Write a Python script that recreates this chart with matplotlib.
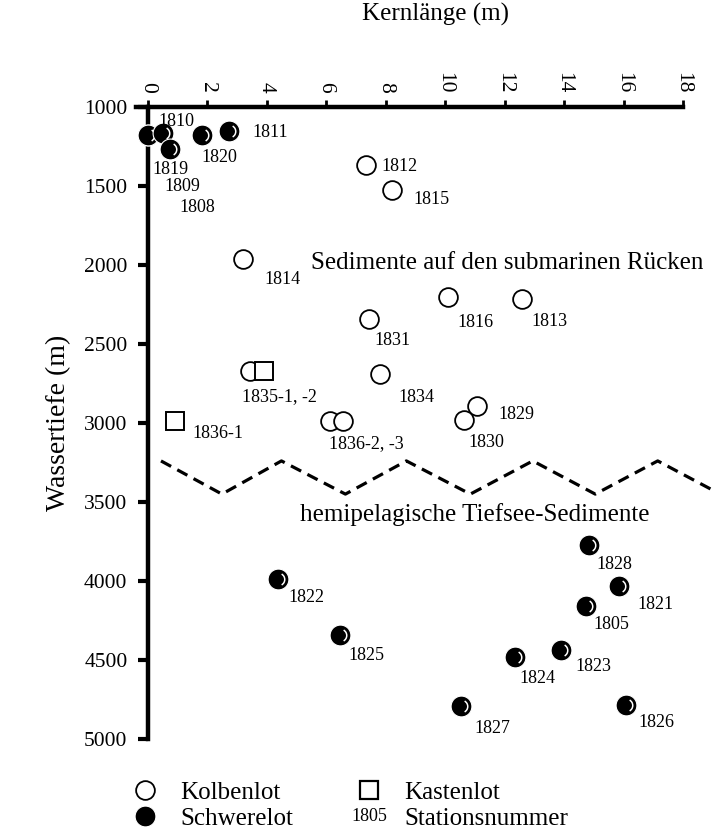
import matplotlib
matplotlib.use("Agg")
import matplotlib.pyplot as plt
from matplotlib.lines import Line2D
from matplotlib.path import Path
from matplotlib.legend_handler import HandlerBase
import numpy as np

plt.rcParams['font.family'] = ['Liberation Serif', 'DejaVu Serif']

# Kolbenlot (open circles)
kolben_x = [7.35, 8.2, 3.2, 10.1, 12.6, 7.45, 7.8, 3.45, 6.12, 6.57, 11.08, 10.63]
kolben_y = [1365, 1525, 1960, 2205, 2215, 2340, 2690, 2670, 2990, 2990, 2895, 2980]
kolben_lbl = ['1812', '1815', '1814', '1816', '1813', '1831', '1834', '1835-1, -2',
              '1836-2, -3', '', '1829', '1830']

# Kastenlot (squares)
kasten_x = [3.9, 0.92]
kasten_y = [2670, 2990]
kasten_lbl = ['', '1836-1']

# Schwerelot (filled circles)
schwer_x = [0.0, 0.0, 0.53, 0.76, 1.82, 2.75, 14.85, 4.37, 15.84, 14.75, 6.48, 13.9, 12.34, 10.52, 16.08]
schwer_y = [1180, 1175, 1165, 1265, 1175, 1155, 3770, 3985, 4034, 4156, 4340, 4439, 4481, 4793, 4783]
schwer_lbl = ['1808', '1809', '1810', '1819', '1820', '1811', '1828', '1822', '1821', '1805',
              '1825', '1823', '1824', '1827', '1826']

# boundary between the two sediment provinces (zigzag)
wave_x = [0.45, 2.5, 4.5, 6.65, 8.7, 10.85, 12.95, 15.05, 17.15, 19.05]
wave_y = [3240, 3450, 3240, 3450, 3240, 3450, 3240, 3450, 3240, 3430]

x_ticks = list(range(0, 19, 2))
y_ticks = list(range(1000, 5001, 500))

# label offsets in pixels (right, down) from the marker centre
lbl_off = {
    '1808': (50, 72), '1809': (35, 52), '1810': (13, -12), '1819': (0, 21),
    '1820': (18, 23), '1811': (41, 1), '1812': (33, 2), '1815': (40, 10),
    '1814': (40, 21), '1816': (27, 25), '1813': (27, 23), '1831': (23, 22),
    '1834': (37, 23), '1835-1, -2': (29, 26), '1836-1': (43, 12),
    '1836-2, -3': (37, 22), '1829': (39, 8), '1830': (23, 23),
    '1828': (25, 20), '1822': (29, 19), '1821': (37, 18), '1805': (25, 19),
    '1825': (26, 21), '1823': (32, 16), '1824': (23, 22), '1827': (32, 22),
    '1826': (31, 18),
}

# white highlight crescent on the Schwerelot balls
arc = Path.arc(-60, 60)
shine = Path(np.vstack([[1.0, 0.0], arc.vertices * 0.6]),
             np.concatenate([[Path.MOVETO], arc.codes]))

ball_ms = 15
ring_ms = 13.5


def draw_ball(ax, x, y, **kw):
    ax.plot(x, y, 'o', ms=ball_ms, mfc='black', mec='white', mew=0.8, clip_on=False, **kw)
    ax.plot(x, y, marker=shine, ms=ball_ms, mfc='none', mec='white', mew=1.1,
            ls='none', clip_on=False, **kw)


class StationHandler(HandlerBase):
    def create_artists(self, legend, orig_handle, xdescent, ydescent, width, height,
                       fontsize, trans):
        t = plt.Text(width / 2 - xdescent, height / 2 - ydescent, '1805', ha='center',
                     va='center', fontsize=13, transform=trans)
        return [t]


fig = plt.figure(figsize=(7.13, 8.38), dpi=100)
ax = fig.add_axes([136 / 713, 1 - 739 / 838, (683 - 136) / 713, (739 - 107) / 838])

ax.plot(wave_x, wave_y, color='black', lw=2.3, ls=(0, (3.6, 2.2)), clip_on=False,
        solid_capstyle='butt')

for x, y in zip(schwer_x, schwer_y):
    draw_ball(ax, x, y, zorder=3)

for x, y in zip(kolben_x, kolben_y):
    ax.plot(x, y, 'o', ms=ring_ms, mfc='white', mec='black', mew=1.3, clip_on=False, zorder=3)
for x, y in zip(kasten_x, kasten_y):
    ax.plot(x, y, 's', ms=13, mfc='white', mec='black', mew=1.4, clip_on=False, zorder=3)

for xs, ys, ls in [(schwer_x, schwer_y, schwer_lbl), (kolben_x, kolben_y, kolben_lbl),
                   (kasten_x, kasten_y, kasten_lbl)]:
    for x, y, s in zip(xs, ys, ls):
        if not s:
            continue
        dx, dy = lbl_off[s]
        ax.annotate(s, (x, y), xytext=(dx, -dy), textcoords='offset pixels',
                    ha='center', va='center', fontsize=13, zorder=4)

ax.text(5.5, 1990, 'Sedimente auf den submarinen Rücken', fontsize=18, ha='left', va='center')
ax.text(5.13, 3580, 'hemipelagische Tiefsee-Sedimente', fontsize=18, ha='left', va='center')

ax.set_xlim(-0.39, 18)
ax.set_ylim(5000, 1000)
ax.spines['left'].set_position(('data', 0))
ax.spines['bottom'].set_visible(False)
ax.spines['right'].set_visible(False)
ax.spines['top'].set_linewidth(3.2)
ax.spines['left'].set_linewidth(3.2)
ax.spines['top'].set_bounds(-0.39, 18)

ax.xaxis.tick_top()
ax.xaxis.set_label_position('top')
ax.set_xticks(x_ticks)
ax.set_xticklabels([str(v) for v in x_ticks], rotation=270, fontsize=15.5)
ax.tick_params(axis='x', direction='out', length=5, width=2, pad=5)
ax.set_yticks(y_ticks)
ax.set_yticklabels([str(v) for v in y_ticks], fontsize=15.5)
ax.tick_params(axis='y', direction='out', length=7.5, width=3, pad=7)

ax.set_xlabel('Kernlänge (m)', fontsize=18)
ax.xaxis.set_label_coords((436 - 136) / (683 - 136), 1 + (107 - 21) / (739 - 107))
ax.set_ylabel('Wassertiefe (m)', fontsize=20, labelpad=9)

handles = [Line2D([], [], ls='none', marker='o', ms=ring_ms, mfc='white', mec='black', mew=1.3),
           Line2D([], [], ls='none', marker='o', ms=ball_ms, mfc='black', mec='white', mew=0.8),
           Line2D([], [], ls='none', marker='s', ms=13, mfc='white', mec='black', mew=1.6),
           'station']
labels = ['Kolbenlot', 'Schwerelot', 'Kastenlot', 'Stationsnummer']
ax.legend(handles, labels, handler_map={str: StationHandler()}, ncol=2, frameon=False,
          loc='upper left', bbox_to_anchor=(127 / 713, 1 - 781 / 838),
          bbox_transform=fig.transFigure, fontsize=18, handlelength=1.4,
          handletextpad=0.72, columnspacing=2.35, borderpad=0, borderaxespad=0,
          labelspacing=0.15)

fig.savefig('out.png', dpi=100)
